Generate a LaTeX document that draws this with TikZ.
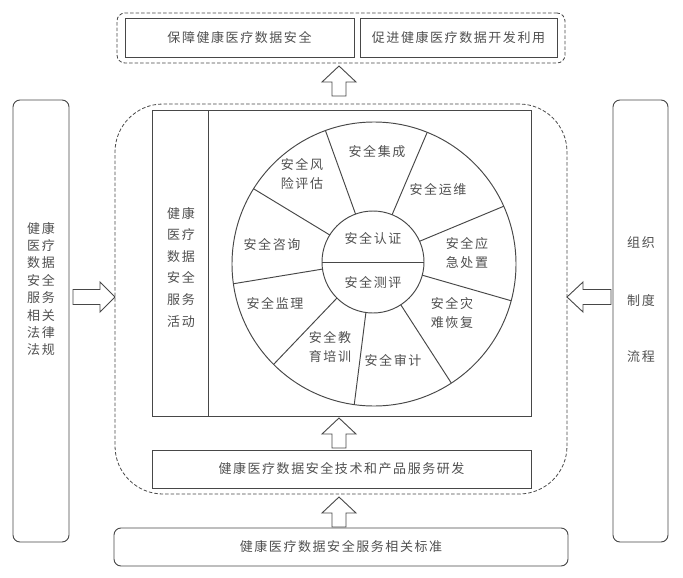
\documentclass[tikz,border=0pt]{standalone}
\usepackage{fontspec}
\usetikzlibrary{calc}
\newfontfamily\cjk{Noto Sans CJK SC}[LetterSpace=12]
\definecolor{linegray}{HTML}{474747}
\definecolor{txtgray}{HTML}{505050}
\begin{document}
\begin{tikzpicture}[x=1pt,y=-1pt,
  box/.style={draw=linegray, line width=0.95pt, inner sep=0pt, outer sep=0pt},
  rbox/.style={box, rounded corners=7pt},
  dbox/.style={draw=linegray, line width=0.8pt, dash pattern=on 3.5pt off 2pt, inner sep=0pt},
  lbl/.style={text=txtgray, font=\cjk\fontsize{13}{19.5}\selectfont, align=center, inner sep=0pt},
  blk/.style={draw=linegray, line width=0.9pt, fill=white, line join=miter},
  uparr/.pic={\draw[blk] (0,0) -- (17,16) -- (7,16) -- (7,30) -- (-7,30) -- (-7,16) -- (-17,16) -- cycle;},
  rtarr/.pic={\draw[blk] (0,0) -- (-15,-15) -- (-15,-7.5) -- (-42,-7.5) -- (-42,7.5) -- (-15,7.5) -- (-15,15) -- cycle;},
  lfarr/.pic={\draw[blk] (0,0) -- (16,-15) -- (16,-7.5) -- (44,-7.5) -- (44,7.5) -- (16,7.5) -- (16,15) -- cycle;}
]
\useasboundingbox (0,0) rectangle (683,578);

% goals at the top
\node[dbox, rounded corners=8pt, minimum width=448pt, minimum height=50pt] (goals) at (341,38) {};
\node[box, minimum width=229pt, minimum height=39pt] (goalA) at (239.5,37.5) {};
\node[lbl] (goalAt) at (goalA) {保障健康医疗数据安全};
\node[box, minimum width=197pt, minimum height=39pt] (goalB) at (458.5,37.5) {};
\node[lbl] (goalBt) at (goalB) {促进健康医疗数据开发利用};

% service frame
\node[dbox, rounded corners=48pt, minimum width=452pt, minimum height=390pt] (frame) at (341,299) {};
\node[box, fill=white, minimum width=379pt, minimum height=306pt] (act) at (341.5,263) {};
\coordinate (divT) at (208,110);
\coordinate (divB) at (208,416);
\draw[linegray, line width=0.95pt] (divT) -- (divB);
\node[lbl, font=\cjk\fontsize{13}{21.6}\selectfont] (actt) at (181,267) {健康\\医疗\\数据\\安全\\服务\\活动};

% service wheel
\node[box, circle, minimum size=284pt] (outer) at (374,264) {};
\node[box, circle, minimum size=102pt] (inner) at (373,262) {};
\draw[linegray, line width=0.95pt] (inner.west) -- (inner.east);
\foreach \a in {110.6,68,24.6,-15.7,-57.7,-98.8,-135.6,-172.5,148.8}
  \draw[linegray, line width=0.95pt] (inner.\a) -- (outer.\a);

\node[lbl] (s1) at (377,152) {安全集成};
\node[lbl] (s2) at (438,190) {安全运维};
\node[lbl] (s3) at (467,253) {安全应\\急处置};
\node[lbl] (s4) at (452,313) {安全灾\\难恢复};
\node[lbl] (s5) at (393,360) {安全审计};
\node[lbl] (s6) at (330,347) {安全教\\育培训};
\node[lbl] (s7) at (275,303) {安全监理};
\node[lbl] (s8) at (272,245) {安全咨询};
\node[lbl] (s9) at (302,174) {安全风\\险评估};
\node[lbl] (c1) at (373,238) {安全认证};
\node[lbl] (c2) at (373,282) {安全测评};

% research and standards
\node[box, minimum width=379pt, minimum height=38pt] (rd) at (341.5,469) {};
\node[lbl] (rdt) at (rd) {健康医疗数据安全技术和产品服务研发};
\node[rbox, minimum width=454pt, minimum height=38pt] (std) at (341,547) {};
\node[lbl] (stdt) at (std) {健康医疗数据安全服务相关标准};

% side pillars
\node[rbox, minimum width=56pt, minimum height=442pt] (law) at (41,321) {};
\node[lbl, font=\cjk\fontsize{13}{17.4}\selectfont] (lawt) at (41,289) {健康\\医疗\\数据\\安全\\服务\\相关\\法律\\法规};
\node[rbox, minimum width=55pt, minimum height=442pt] (org) at (640.5,321) {};
\node[lbl] (org1) at (641,243) {组织};
\node[lbl] (org2) at (641,301) {制度};
\node[lbl] (org3) at (641,357) {流程};

% block arrows
\pic at (339,66) {uparr};
\pic at (339,418) {uparr};
\pic at (339,497) {uparr};
\pic at (115,297) {rtarr};
\pic at (567,297) {lfarr};
\end{tikzpicture}
\end{document}
